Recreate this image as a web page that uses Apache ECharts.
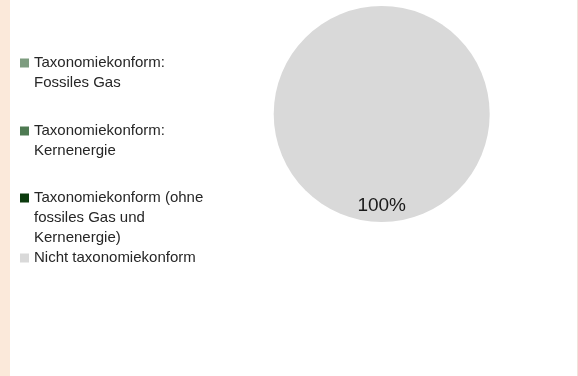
<!DOCTYPE html>
<html>
<head>
<meta charset="utf-8">
<script src="https://cdn.jsdelivr.net/npm/echarts@6/dist/echarts.min.js"></script>
<style>
  html, body { margin: 0; padding: 0; background: #ffffff; }
  #chart { position: absolute; left: 0; top: 0; width: 578px; height: 376px; box-sizing: border-box; border-left: 10px solid #FBE9DA; border-right: 1px solid #F1E2DA; }
</style>
</head>
<body>
<div id="chart"></div>
<script>
const categories = [
  'Taxonomiekonform:\nFossiles Gas',
  'Taxonomiekonform:\nKernenergie',
  'Taxonomiekonform (ohne\nfossiles Gas und\nKernenergie)',
  'Nicht taxonomiekonform'
];
const values = [0, 0, 0, 100];
const colors = ['#7D9C7F', '#4E7A52', '#0C3B0E', '#D9D9D9'];

const legendCenters = [63, 131, 198, 258];
const LH = 20;

const chart = echarts.init(document.getElementById('chart'), null, { renderer: 'canvas' });

const legends = categories.map(function (name, i) {
  const n = name.split('\n').length;
  const pad = new Array(n).join('\n');
  const total = 2 * n - 1;
  return {
    orient: 'vertical',
    left: 10,
    top: legendCenters[i] - total * LH / 2,
    padding: 0,
    data: [name],
    itemWidth: 9,
    itemHeight: 9,
    icon: 'rect',
    selectedMode: false,
    itemStyle: { borderWidth: 0 },
    formatter: function (t) { return pad + t; },
    textStyle: { fontFamily: 'Liberation Sans', fontSize: 15, lineHeight: LH, color: '#262626' }
  };
});

chart.setOption({
  animation: false,
  color: colors,
  legend: legends,
  series: [{
    type: 'pie',
    center: [371.7, 114],
    radius: 108,
    startAngle: 90,
    silent: true,
    itemStyle: { borderWidth: 0 },
    emphasis: { disabled: true },
    label: {
      show: true,
      position: 'inside',
      fontFamily: 'Liberation Sans',
      fontSize: 19,
      color: '#1a1a1a',
      formatter: function (p) { return p.value > 0 ? Math.round(p.percent) + '%' : ''; }
    },
    labelLine: { show: false },
    labelLayout: { dy: 35 },
    data: categories.map(function (c, i) { return { name: c, value: values[i] }; })
  }]
});
</script>
</body>
</html>
